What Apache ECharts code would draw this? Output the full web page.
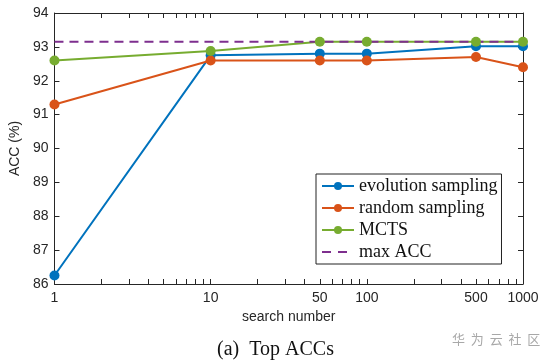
<!DOCTYPE html>
<html><head><meta charset="utf-8">
<script src="https://cdn.jsdelivr.net/npm/echarts@6/dist/echarts.min.js"></script>
<style>html,body{margin:0;padding:0;background:#fff}#c{width:551px;height:361px}</style>
</head><body><div id="c"></div>
<script>
const searchNumbers = [1, 10, 50, 100, 500, 1000];
const evolutionSampling = [86.25, 92.75, 92.8, 92.8, 93.02, 93.02];
const randomSampling = [91.3, 92.6, 92.6, 92.6, 92.7, 92.4];
const mcts = [92.6, 92.88, 93.15, 93.15, 93.15, 93.15];
const maxAcc = 93.15;
const xTickLabels = [1, 10, 50, 100, 500, 1000];
const xMinorTicks = [1,2,3,4,5,6,7,8,9,10,20,30,40,50,60,70,80,90,100,200,300,400,500,600,700,800,900,1000];

const pairs = ys => searchNumbers.map((x, i) => [x, ys[i]]);
const axisColor = '#262626';
const labelFont = {fontFamily: 'Liberation Sans, Arial, sans-serif', fontSize: 14, color: axisColor};

const chart = echarts.init(document.getElementById('c'), null, {renderer: 'canvas'});
chart.setOption({
  animation: false,
  backgroundColor: '#fff',
  grid: {left: 50, right: 28, top: 13, bottom: 77},
  xAxis: [{
    type: 'log', logBase: 10, min: 1, max: 1000, position: 'bottom',
    name: 'search number', nameLocation: 'middle', nameGap: 24,
    nameTextStyle: labelFont,
    axisLine: {show: true, lineStyle: {color: axisColor, width: 1}},
    axisTick: {show: true, inside: true, length: 5, customValues: xMinorTicks, lineStyle: {color: axisColor}},
    axisLabel: Object.assign({margin: 7, customValues: xTickLabels, formatter: v => String(Math.round(v))}, labelFont),
    splitLine: {show: false}, minorTick: {show: false}
  }, {
    type: 'log', logBase: 10, min: 1, max: 1000, position: 'top',
    axisLine: {show: true, lineStyle: {color: axisColor, width: 1}},
    axisTick: {show: true, inside: true, length: 5, customValues: xMinorTicks, lineStyle: {color: axisColor}},
    axisLabel: {show: false}, splitLine: {show: false}
  }],
  yAxis: [{
    type: 'value', min: 86, max: 94, interval: 1, position: 'left',
    name: 'ACC (%)', nameLocation: 'middle', nameGap: 28, nameTextStyle: labelFont,
    axisLine: {show: true, lineStyle: {color: axisColor, width: 1}},
    axisTick: {show: true, inside: true, length: 5, lineStyle: {color: axisColor}},
    axisLabel: Object.assign({margin: 6}, labelFont),
    splitLine: {show: false}
  }, {
    type: 'value', min: 86, max: 94, interval: 1, position: 'right',
    axisLine: {show: true, lineStyle: {color: axisColor, width: 1}},
    axisTick: {show: true, inside: true, length: 5, lineStyle: {color: axisColor}},
    axisLabel: {show: false}, splitLine: {show: false}
  }],
  legend: {
    show: true, orient: 'vertical', left: 316, top: 174,
    padding: [3, 4, 3, 5], itemGap: 4, itemWidth: 32, itemHeight: 10,
    borderColor: '#222', borderWidth: 1, backgroundColor: '#fff',
    textStyle: {fontFamily: 'Liberation Serif, Times New Roman, serif', fontSize: 18, color: '#111'},
    data: ['evolution sampling', 'random sampling', 'MCTS',
      {name: 'max ACC', itemStyle: {opacity: 0}, lineStyle: {type: [9, 7]}}]
  },
  series: [
    {name: 'evolution sampling', type: 'line', data: pairs(evolutionSampling), symbol: 'circle', symbolSize: 10,
     itemStyle: {color: '#0072BD'}, lineStyle: {color: '#0072BD', width: 2}},
    {name: 'random sampling', type: 'line', data: pairs(randomSampling), symbol: 'circle', symbolSize: 10,
     itemStyle: {color: '#D95319'}, lineStyle: {color: '#D95319', width: 2}},
    {name: 'MCTS', type: 'line', data: pairs(mcts), symbol: 'circle', symbolSize: 10,
     itemStyle: {color: '#77AC30'}, lineStyle: {color: '#77AC30', width: 2}},
    {name: 'max ACC', type: 'line', data: [[1, maxAcc], [1000, maxAcc]], symbol: 'none', showSymbol: false,
     itemStyle: {color: '#7E2F8E'}, lineStyle: {color: '#7E2F8E', width: 2, type: [9, 6]}}
  ],
  graphic: [
    {type: 'text', left: 'center', top: 340, style: {text: '(a)  Top ACCs', fontFamily: 'Liberation Serif, Times New Roman, serif', fontSize: 20, fill: '#111'}, x: -6},
    {type: 'text', left: 452, top: 333, style: {text: '华  为  云  社  区', fontFamily: 'Noto Sans CJK SC', fontSize: 13, fill: '#a8a8a8'}}
  ]
});
</script></body></html>
